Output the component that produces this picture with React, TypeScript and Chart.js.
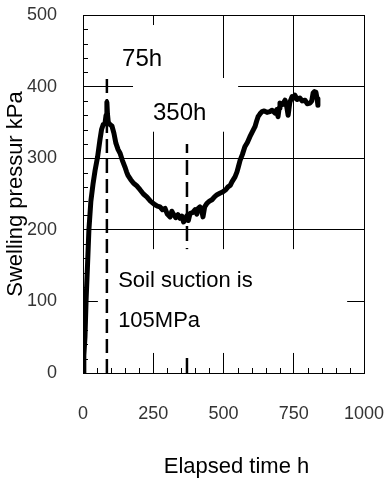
import React, { useEffect, useRef } from 'react';
import { Chart, registerables } from 'chart.js';

Chart.register(...registerables);

const FONT = '"Liberation Sans", Arial, Helvetica, sans-serif';

// Swelling pressure curve (elapsed time h, pressure kPa)
const curveHours = [
  0, 3, 7, 11, 16, 21, 28, 36, 43, 52, 60, 66, 72, 78, 82, 85, 87, 90, 96, 103,
  110, 117, 125, 132, 140, 149, 155, 160, 170, 180, 190, 203, 215, 227, 240, 256,
  265, 274, 283, 292, 300, 310, 316, 320, 330, 338, 345, 352, 358, 363, 370, 375,
  381, 390, 399, 405, 410, 416, 422, 427, 433, 441, 450, 459, 468, 477, 487, 498,
  508, 516, 524, 530, 541, 548, 553, 559, 567, 576, 585, 594, 603, 612, 618, 623,
  630, 637, 645, 655, 665, 673, 683, 690, 694, 698, 701, 710, 719, 725, 730, 736,
  744, 750, 754, 762, 772, 780, 790, 798, 808, 814, 819, 824, 829, 833, 836,
];
const curvePressure = [
  0, 25, 50, 102, 150, 200, 240, 265, 283, 302, 325, 340, 347, 348, 360, 378, 362, 350, 347, 345,
  335, 321, 312, 307, 297, 288, 281, 276, 270, 265, 262, 256, 250, 246, 240, 235,
  233, 232, 228, 230, 222, 218, 226, 223, 217, 221, 216, 219, 211, 214, 220, 213,
  223, 224, 228, 222, 230, 232, 228, 218, 232, 237, 240, 242, 246, 249, 251, 253,
  256, 260, 262, 267, 274, 281, 288, 297, 305, 316, 322, 330, 337, 344, 352, 358,
  362, 365, 366, 364, 365, 367, 363, 368, 358, 370, 377, 375, 381, 372, 360, 378,
  386, 384, 388, 382, 384, 380, 381, 376, 377, 380, 391, 393, 392, 383, 374,
];

// Dashed marker lines
const marker75Hours = [85, 85];
const marker75Pressure = [0, 415];
const marker350Hours = [370, 370];
const marker350Pressure = [0, 320];

// Axis ticks
const xTickValues = [0, 250, 500, 750, 1000];
const yTickValues = [0, 100, 200, 300, 400, 500];
const xMinorStep = 50;
const yMinorStep = 20;

// Texts
const xTitle = 'Elapsed time h';
const yTitle = 'Swelling pressur kPa';
const noteTexts = ['75h', '350h', 'Soil suction is', '105MPa'];
// anchor of each note (h, kPa) = left edge / baseline
const noteHours = [139, 249, 125, 125];
const notePressure = [429, 353, 120, 64];
// white label boxes (h range, kPa range)
const boxHours = [[103, 416], [178, 552], [53, 940]];
const boxPressure = [[486, 409], [412, 337], [173, 28]];

const toPoints = (xs: number[], ys: number[]) => xs.map((x, i) => ({ x, y: ys[i] }));

const overlayPlugin = {
  id: 'overlay',
  beforeDatasetsDraw(chart: any) {
    const { ctx, chartArea, scales } = chart;
    const xs = scales.x;
    const ys = scales.y;
    ctx.save();
    ctx.strokeStyle = '#000';
    ctx.lineWidth = 1;
    ctx.beginPath();
    for (let v = yMinorStep; v < 500; v += yMinorStep) {
      if (v % 100 === 0) continue;
      const py = Math.round(ys.getPixelForValue(v)) + 0.5;
      ctx.moveTo(chartArea.left, py);
      ctx.lineTo(chartArea.left + 5, py);
    }
    for (let h = xMinorStep; h < 1000; h += xMinorStep) {
      if (h % 250 === 0) continue;
      const px = Math.round(xs.getPixelForValue(h)) + 0.5;
      ctx.moveTo(px, chartArea.bottom);
      ctx.lineTo(px, chartArea.bottom - 5);
    }
    ctx.stroke();
    ctx.restore();
  },
  beforeDatasetDraw(chart: any, args: any) {
    if (args.index !== 1) return;
    const { ctx, scales } = chart;
    const xs = scales.x;
    const ys = scales.y;
    ctx.save();
    ctx.fillStyle = '#fff';
    boxHours.forEach((hr, i) => {
      const x0 = xs.getPixelForValue(hr[0]);
      const x1 = xs.getPixelForValue(hr[1]);
      const y0 = ys.getPixelForValue(boxPressure[i][0]);
      const y1 = ys.getPixelForValue(boxPressure[i][1]);
      ctx.fillRect(x0, y0, x1 - x0, y1 - y0);
    });
    ctx.fillStyle = '#000';
    ctx.textAlign = 'left';
    ctx.textBaseline = 'alphabetic';
    noteTexts.forEach((t, i) => {
      ctx.font = `${i < 2 ? 24 : 22}px ${FONT}`;
      ctx.fillText(t, xs.getPixelForValue(noteHours[i]), ys.getPixelForValue(notePressure[i]));
    });
    ctx.restore();
  },
  afterDraw(chart: any) {
    const { ctx, chartArea } = chart;
    ctx.save();
    ctx.fillStyle = '#000';
    ctx.font = `22px ${FONT}`;
    ctx.textAlign = 'center';
    ctx.textBaseline = 'alphabetic';
    ctx.fillText(xTitle, (chartArea.left + chartArea.right) / 2 + 13, chartArea.bottom + 100);
    ctx.restore();
  },
};

export default function App() {
  const ref = useRef<HTMLCanvasElement>(null);
  useEffect(() => {
    if (!ref.current) return;
    const chart = new Chart(ref.current, {
      type: 'line',
      data: {
        datasets: [
          {
            data: toPoints(curveHours, curvePressure),
            borderColor: '#000',
            borderWidth: 5,
            pointRadius: 0,
            tension: 0,
            borderJoinStyle: 'round',
            borderCapStyle: 'round',
          },
          {
            data: toPoints(marker75Hours, marker75Pressure),
            borderColor: '#000',
            borderWidth: 2.5,
            borderDash: [14, 6],
            pointRadius: 0,
          },
          {
            data: toPoints(marker350Hours, marker350Pressure),
            borderColor: '#000',
            borderWidth: 2.5,
            borderDash: [15, 7],
            pointRadius: 0,
          },
        ],
      },
      options: {
        animation: false,
        responsive: false,
        devicePixelRatio: 1,
        layout: { padding: { top: 15, right: 23, left: 0, bottom: 0 } },
        plugins: { legend: { display: false }, tooltip: { enabled: false } },
        scales: {
          x: {
            type: 'linear',
            min: 0,
            max: 1000,
            afterBuildTicks: (s: any) => {
              s.ticks = xTickValues.map((v) => ({ value: v }));
            },
            afterFit: (s: any) => {
              s.height = 107;
              s.paddingLeft = 0;
              s.paddingRight = 0;
              s.paddingTop = 0;
              s.paddingBottom = 0;
            },
            ticks: {
              font: { family: FONT, size: 18 },
              color: '#333',
              padding: 30,
              maxRotation: 0,
              callback: (v: any) => String(v),
            },
            grid: { color: '#000', lineWidth: 1, drawTicks: false },
            border: { display: true, color: '#000', width: 1 },
          },
          y: {
            type: 'linear',
            min: 0,
            max: 500,
            afterBuildTicks: (s: any) => {
              s.ticks = yTickValues.map((v) => ({ value: v }));
            },
            afterFit: (s: any) => {
              s.width = 83;
              s.paddingLeft = 0;
              s.paddingRight = 0;
              s.paddingTop = 0;
              s.paddingBottom = 0;
            },
            ticks: {
              font: { family: FONT, size: 18 },
              color: '#333',
              padding: 26,
              callback: (v: any) => String(v),
            },
            grid: { color: '#000', lineWidth: 1, drawTicks: false },
            border: { display: true, color: '#000', width: 1 },
            title: {
              display: true,
              text: yTitle,
              color: '#000',
              font: { family: FONT, size: 22 },
              padding: { top: 3, bottom: 0 },
            },
          },
        },
      },
      plugins: [overlayPlugin],
    } as any);
    return () => chart.destroy();
  }, []);
  return (
    <div style={{ position: 'absolute', left: 0, top: 0, width: 387, height: 480, background: '#fff' }}>
      <canvas ref={ref} width={387} height={480} style={{ display: 'block', width: 387, height: 480 }} />
    </div>
  );
}
